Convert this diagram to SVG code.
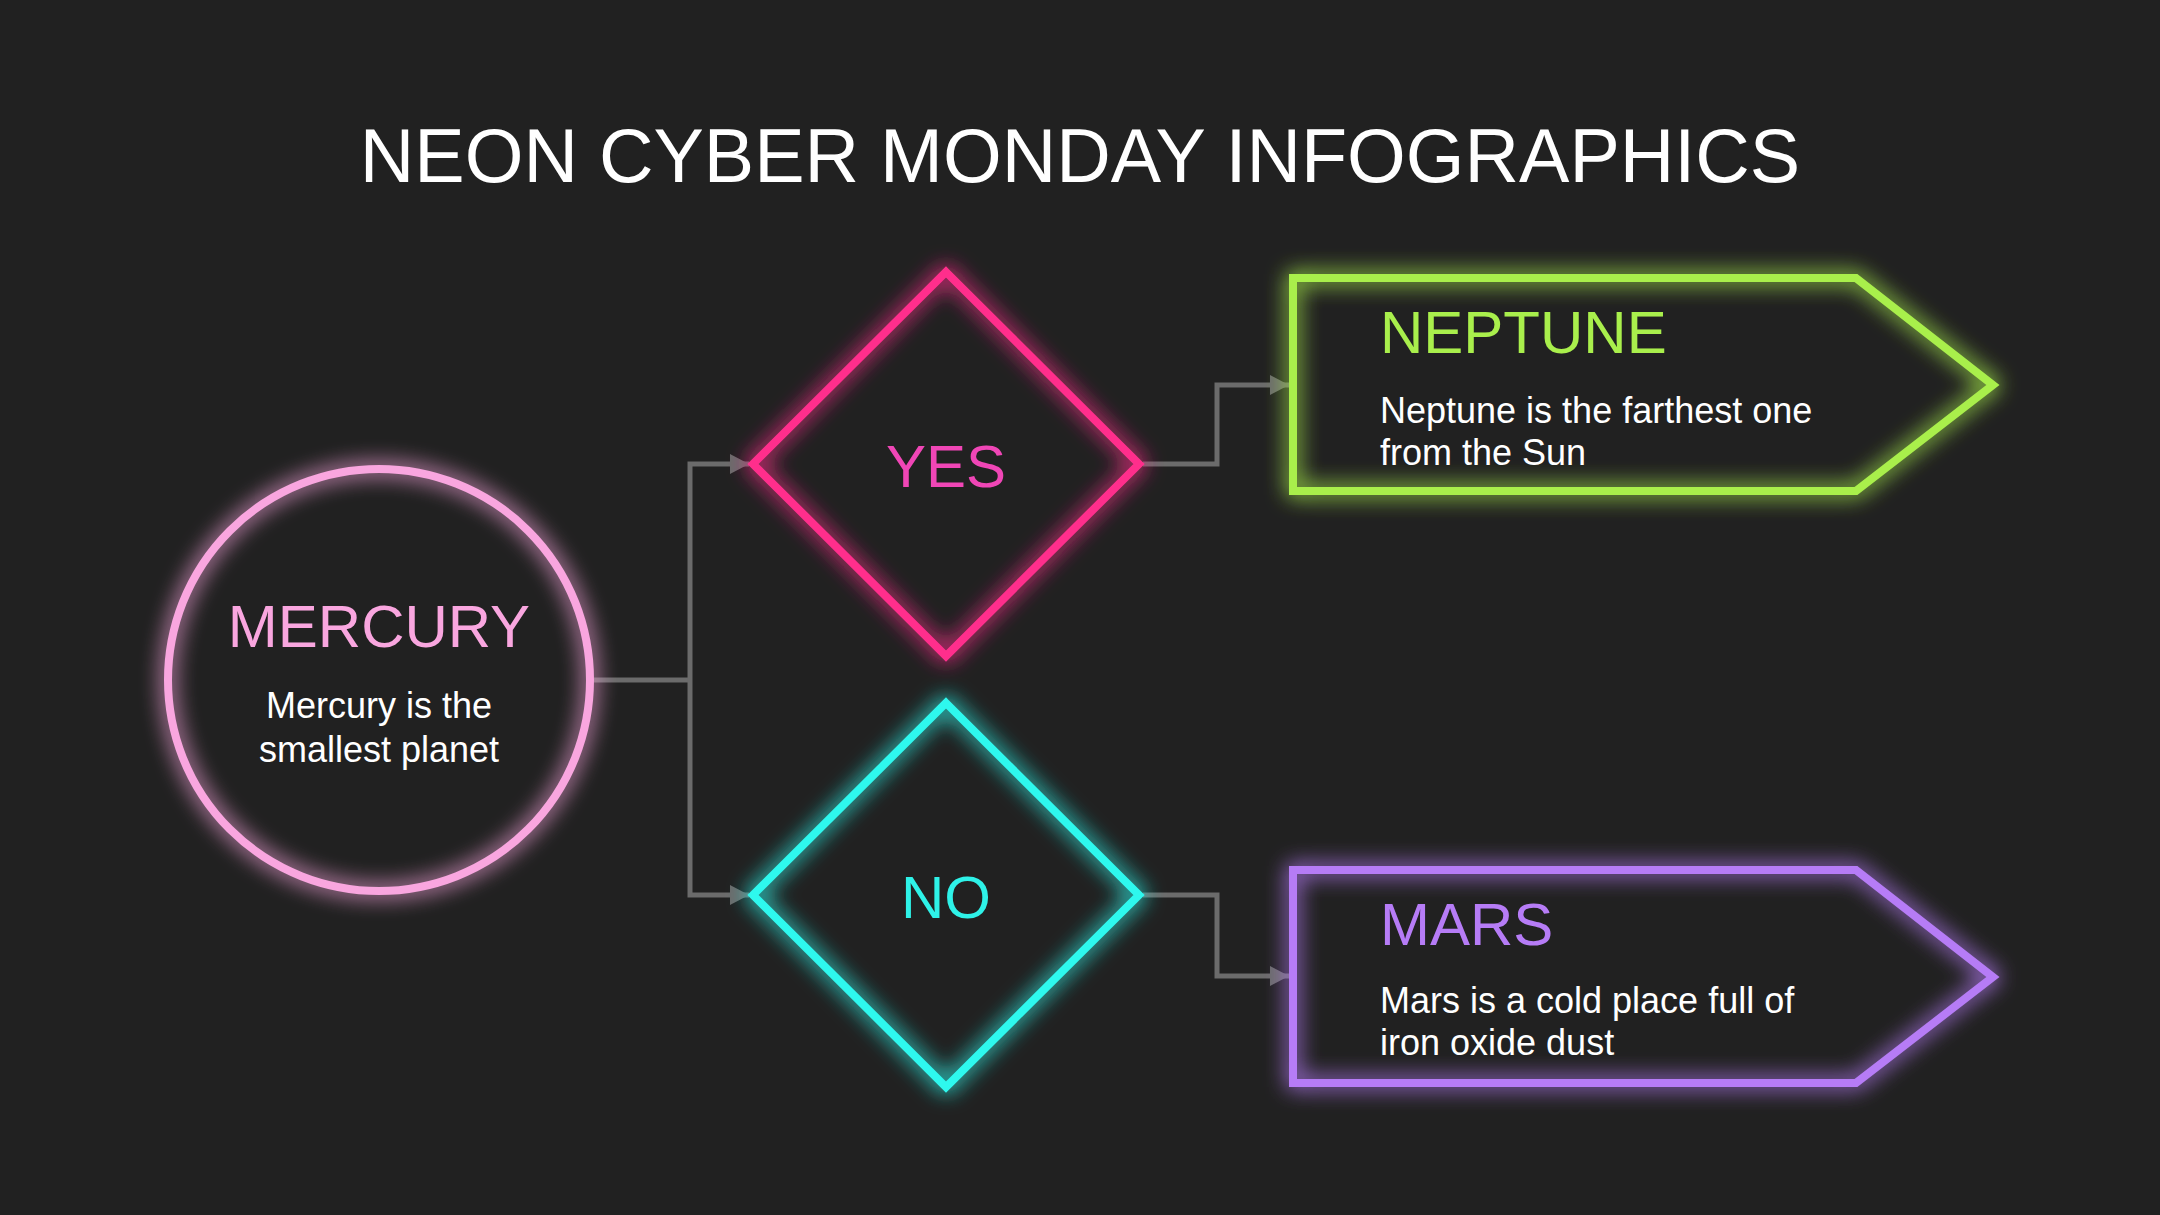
<svg xmlns="http://www.w3.org/2000/svg" width="2160" height="1215" viewBox="0 0 2160 1215">
<defs>
<style>
.title{font-family:"Liberation Sans",Arial,sans-serif;font-size:75.5px;fill:#ffffff}
.head{font-family:"Liberation Sans",Arial,sans-serif;font-size:60px}
.body{font-family:"Liberation Sans",Arial,sans-serif;font-size:36px;fill:#ffffff}
.shape{fill:none;stroke-width:8;stroke-linejoin:miter}
.conn{fill:none;stroke:#6b6b6b;stroke-width:5}
</style>
<filter id="glow" x="-25%" y="-25%" width="150%" height="150%">
<feGaussianBlur in="SourceGraphic" stdDeviation="11" result="b"/>
<feComponentTransfer in="b" result="b2"><feFuncA type="linear" slope="1.4"/></feComponentTransfer>
<feMerge><feMergeNode in="b2"/><feMergeNode in="SourceGraphic"/></feMerge>
</filter>
<marker id="arr" markerUnits="userSpaceOnUse" markerWidth="22" markerHeight="22" refX="19" refY="10" orient="auto">
<path d="M0,0 L19,10 L0,20 Z" fill="#6b6b6b"/>
</marker>
</defs>
<rect width="2160" height="1215" fill="#212121"/>
<text class="title" x="1080" y="182" text-anchor="middle">NEON CYBER MONDAY INFOGRAPHICS</text>

<g id="connectors">
<path class="conn" d="M594,680 H690"/>
<path class="conn" d="M690,680 V464 H749" marker-end="url(#arr)"/>
<path class="conn" d="M690,680 V895 H749" marker-end="url(#arr)"/>
<path class="conn" d="M1143,464 H1217 V385 H1289" marker-end="url(#arr)"/>
<path class="conn" d="M1143,895 H1217 V976 H1289" marker-end="url(#arr)"/>
</g>

<g id="mercury">
<circle class="shape" cx="379" cy="680" r="211" stroke="#f9a6df" filter="url(#glow)"/>
<text class="head" x="379" y="647" text-anchor="middle" fill="#f9a6df">MERCURY</text>
<text class="body" x="379" y="718" text-anchor="middle">Mercury is the</text>
<text class="body" x="379" y="762" text-anchor="middle">smallest planet</text>
</g>

<g id="yes">
<polygon class="shape" points="946,272 1139,464 946,656 753,464" stroke="#ff2f8c" filter="url(#glow)"/>
<text class="head" x="946" y="487" text-anchor="middle" fill="#f046b6">YES</text>
</g>

<g id="no">
<polygon class="shape" points="946,703 1139,895 946,1087 753,895" stroke="#2ef8ee" filter="url(#glow)"/>
<text class="head" x="946" y="918" text-anchor="middle" fill="#2ef2e8">NO</text>
</g>

<g id="neptune">
<polygon class="shape" points="1293,278 1856,278 1993,385 1856,491 1293,491" stroke="#a9ef4c" filter="url(#glow)"/>
<text class="head" x="1380" y="353" fill="#a9ef4c">NEPTUNE</text>
<text class="body" x="1380" y="423">Neptune is the farthest one</text>
<text class="body" x="1380" y="465">from the Sun</text>
</g>

<g id="mars">
<polygon class="shape" points="1293,870 1856,870 1993,977 1856,1083 1293,1083" stroke="#b67cf6" filter="url(#glow)"/>
<text class="head" x="1380" y="945" fill="#b67cf6">MARS</text>
<text class="body" x="1380" y="1013">Mars is a cold place full of</text>
<text class="body" x="1380" y="1055">iron oxide dust</text>
</g>
</svg>
